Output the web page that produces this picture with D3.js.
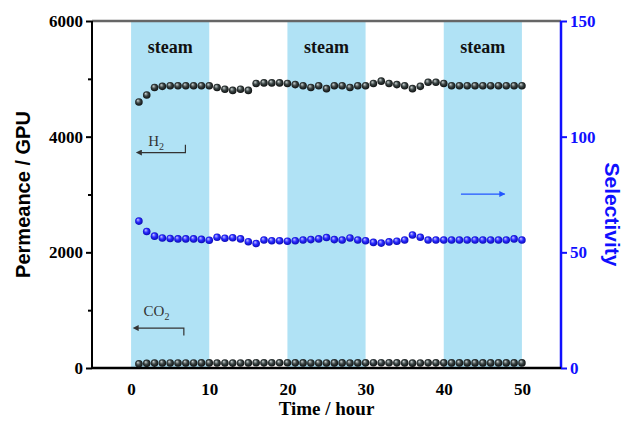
<!DOCTYPE html>
<html>
<head>
<meta charset="utf-8">
<script src="https://cdn.jsdelivr.net/npm/d3@7"></script>
<style>
  body { margin: 0; background: #fff; }
  svg { display: block; }
</style>
</head>
<body>
<div id="chart"></div>
<script>
// data
var hours = d3.range(1, 51);
var h2Perm = [4600, 4720, 4850, 4870, 4880, 4880, 4880, 4880, 4880, 4880,
  4850, 4820, 4800, 4820, 4800, 4920, 4930, 4930, 4930, 4920,
  4900, 4880, 4850, 4880, 4830, 4880, 4880, 4850, 4880, 4880,
  4920, 4960, 4920, 4900, 4880, 4830, 4870, 4940, 4940, 4920,
  4880, 4880, 4880, 4880, 4880, 4880, 4880, 4880, 4880, 4880];
var co2Perm = [72, 80, 85, 87, 87, 87, 87, 87, 88, 88,
  86, 86, 85, 86, 88, 91, 89, 90, 90, 90,
  89, 88, 87, 87, 86, 88, 88, 86, 88, 89,
  91, 92, 90, 89, 88, 84, 86, 89, 89, 89,
  88, 88, 88, 88, 88, 88, 88, 88, 88, 88];
var selectivity = [63.5, 59, 57, 56.2, 56, 55.8, 55.8, 55.8, 55.6, 55.2,
  56.5, 56.1, 56.3, 55.8, 54.6, 53.8, 55.3, 55, 55, 54.8,
  55, 55.3, 55.5, 55.8, 56.4, 55.5, 55.3, 56.2, 55.3, 55,
  54.3, 54, 54.5, 54.8, 55.3, 57.5, 56.5, 55.3, 55.3, 55.3,
  55.3, 55.3, 55.3, 55.3, 55.3, 55.3, 55.3, 55.3, 55.8, 55.3];
var steamPeriods = [[0, 10], [20, 30], [40, 50]];
var xTicks = [0, 10, 20, 30, 40, 50];
var leftTicks = [0, 2000, 4000, 6000];
var leftMinor = [1000, 3000, 5000];
var rightTicks = [0, 50, 100, 150];

var W = 629, H = 421;
var margin = {top: 21, left: 92, right: 68, bottom: 53};

var svg = d3.select("#chart").append("svg")
  .attr("width", W)
  .attr("height", H);

var x = d3.scaleLinear().domain([-5, 55]).range([margin.left, W - margin.right]);
var yL = d3.scaleLinear().domain([0, 6000]).range([H - margin.bottom, margin.top]);
var yR = d3.scaleLinear().domain([0, 150]).range([H - margin.bottom, margin.top]);

var serif = "'Liberation Serif', 'Times New Roman', serif";
var sans = "'Liberation Sans', Arial, sans-serif";
var blue = "#1010ff";

//sphere gradients
var defs = svg.append("defs");
function sphere(id, hi, mid, lo) {
  var g = defs.append("radialGradient").attr("id", id)
    .attr("cx", "0.5").attr("cy", "0.5").attr("r", "0.6")
    .attr("fx", "0.35").attr("fy", "0.3");
  g.append("stop").attr("offset", "0%").attr("stop-color", hi);
  g.append("stop").attr("offset", "45%").attr("stop-color", mid);
  g.append("stop").attr("offset", "100%").attr("stop-color", lo);
}
sphere("ballBlack", "#cfd6d6", "#3a4444", "#000");
sphere("ballBlue", "#c8c8ff", "#2a2aff", "#0000a0");

var arrowL = defs.append("marker").attr("id", "headL")
  .attr("viewBox", "0 0 10 10").attr("refX", 1).attr("refY", 5)
  .attr("markerWidth", 6).attr("markerHeight", 5).attr("orient", "auto-start-reverse");
arrowL.append("path").attr("d", "M0,0 L10,5 L0,10 z").attr("fill", "#333");
var arrowB = defs.append("marker").attr("id", "headB")
  .attr("viewBox", "0 0 10 10").attr("refX", 9).attr("refY", 5)
  .attr("markerWidth", 6).attr("markerHeight", 5).attr("orient", "auto");
arrowB.append("path").attr("d", "M0,0 L10,5 L0,10 z").attr("fill", "#2255ff");

//steam bands
svg.append("g").selectAll("rect")
  .data(steamPeriods)
  .enter()
  .append("rect")
  .attr("x", function(d) { return x(d[0]); })
  .attr("y", margin.top)
  .attr("width", function(d) { return x(d[1]) - x(d[0]); })
  .attr("height", yL(0) - margin.top)
  .attr("fill", "#b0e2f5");

svg.append("g").selectAll("text")
  .data(steamPeriods)
  .enter()
  .append("text")
  .attr("x", function(d) { return x((d[0] + d[1]) / 2); })
  .attr("y", 53)
  .attr("text-anchor", "middle")
  .attr("font-family", serif)
  .attr("font-weight", "bold")
  .attr("font-size", 18)
  .attr("fill", "#111")
  .text("steam");

//axes
var fmt = d3.format("d");
var gBottom = svg.append("g").attr("transform", "translate(0," + yL(0) + ")")
  .call(d3.axisBottom(x).tickValues(xTicks).tickSize(0).tickPadding(15).tickFormat(fmt));
var gLeft = svg.append("g").attr("transform", "translate(" + x(-5) + ",0)")
  .call(d3.axisLeft(yL).tickValues(leftTicks).tickSize(6).tickPadding(3).tickFormat(fmt));
var gLeftMinor = svg.append("g").attr("transform", "translate(" + x(-5) + ",0)")
  .call(d3.axisLeft(yL).tickValues(leftMinor).tickSize(4).tickFormat(""));
var gRight = svg.append("g").attr("transform", "translate(" + x(55) + ",0)")
  .call(d3.axisRight(yR).tickValues(rightTicks).tickSize(6).tickPadding(3).tickFormat(fmt));

[gBottom, gLeft, gLeftMinor, gRight].forEach(function(g) {
  g.selectAll("text")
    .attr("font-family", serif)
    .attr("font-weight", "bold")
    .attr("font-size", 17);
  g.selectAll(".domain").remove();
  g.selectAll(".tick line").attr("stroke-width", 2);
});
gLeft.selectAll(".tick line").attr("stroke", "#000");
gLeft.selectAll("text").attr("fill", "#000");
gBottom.selectAll("text").attr("fill", "#000");
gRight.selectAll(".tick line").attr("stroke", blue);
gRight.selectAll("text").attr("fill", blue);

//frame lines
svg.append("line")
  .attr("x1", x(-5)).attr("x2", x(55)).attr("y1", yL(6000)).attr("y2", yL(6000))
  .attr("stroke", "#666").attr("stroke-width", 2.5);
svg.append("line")
  .attr("x1", x(-5)).attr("x2", x(-5)).attr("y1", yL(6000)).attr("y2", yL(0))
  .attr("stroke", "#000").attr("stroke-width", 2);
svg.append("line")
  .attr("x1", x(55)).attr("x2", x(55)).attr("y1", yR(150)).attr("y2", yR(0))
  .attr("stroke", blue).attr("stroke-width", 2.5);
svg.append("line")
  .attr("x1", x(-5)).attr("x2", x(55)).attr("y1", yL(0)).attr("y2", yL(0))
  .attr("stroke", "#000").attr("stroke-width", 2.5);

//series
function drawBalls(values, yScale, fill) {
  svg.append("g").selectAll("circle")
    .data(values)
    .enter()
    .append("circle")
    .attr("cx", function(d, i) { return x(hours[i]); })
    .attr("cy", function(d) { return yScale(d); })
    .attr("r", 3.8)
    .attr("fill", fill);
}
drawBalls(h2Perm, yL, "url(#ballBlack)");
drawBalls(co2Perm, yL, "url(#ballBlack)");
drawBalls(selectivity, yR, "url(#ballBlue)");

//annotations
var ann = svg.append("g");
ann.append("text").attr("x", x(2.2)).attr("y", yL(3830))
  .attr("font-family", serif).attr("font-size", 15).attr("fill", "#333")
  .text("H").append("tspan").attr("font-size", 10).attr("dy", 4).text("2");
ann.append("path")
  .attr("d", "M" + x(6.95) + "," + yL(3860) + " L" + x(6.95) + "," + yL(3725) + " L" + x(1.3) + "," + yL(3725))
  .attr("fill", "none").attr("stroke", "#333").attr("stroke-width", 1.2)
  .attr("marker-end", "url(#headL)");

ann.append("text").attr("x", x(1.6)).attr("y", yL(900))
  .attr("font-family", serif).attr("font-size", 15).attr("fill", "#333")
  .text("CO").append("tspan").attr("font-size", 10).attr("dy", 4).text("2");
ann.append("path")
  .attr("d", "M" + x(6.75) + "," + yL(560) + " L" + x(6.75) + "," + yL(690) + " L" + x(0.9) + "," + yL(690))
  .attr("fill", "none").attr("stroke", "#333").attr("stroke-width", 1.2)
  .attr("marker-end", "url(#headL)");

ann.append("line")
  .attr("x1", x(42.2)).attr("x2", x(47.8)).attr("y1", yR(75.2)).attr("y2", yR(75.2))
  .attr("stroke", "#2255ff").attr("stroke-width", 1.2)
  .attr("marker-end", "url(#headB)");

//axis titles
svg.append("text")
  .attr("transform", "translate(30," + ((yL(0) + yL(6000)) / 2) + ") rotate(-90)")
  .attr("text-anchor", "middle")
  .attr("font-family", sans).attr("font-weight", "bold").attr("font-size", 20)
  .text("Permeance / GPU");
svg.append("text")
  .attr("transform", "translate(605," + ((yR(0) + yR(150)) / 2 + 20) + ") rotate(90)")
  .attr("text-anchor", "middle")
  .attr("font-family", sans).attr("font-weight", "bold").attr("font-size", 21)
  .attr("fill", blue)
  .text("Selectivity");
svg.append("text")
  .attr("x", x(25)).attr("y", 415)
  .attr("text-anchor", "middle")
  .attr("font-family", serif).attr("font-weight", "bold").attr("font-size", 19)
  .text("Time / hour");
</script>
</body>
</html>
